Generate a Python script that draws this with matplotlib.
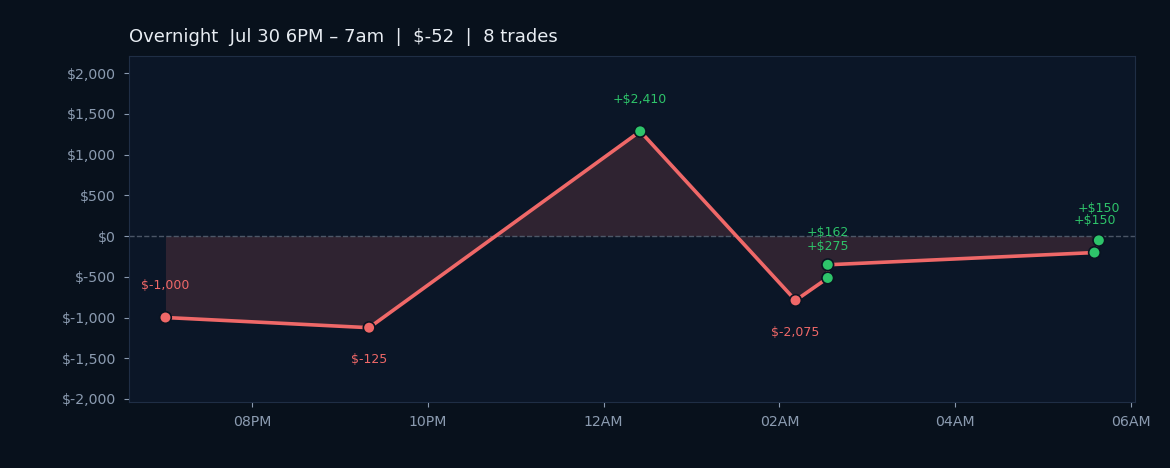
import numpy as np
import pandas as pd
import matplotlib
matplotlib.use("Agg")
import matplotlib.pyplot as plt
import matplotlib.dates as mdates
from matplotlib.ticker import FuncFormatter

# trades
trade_times = ["2024-07-30 19:01", "2024-07-30 21:20", "2024-07-31 00:25",
               "2024-07-31 02:11", "2024-07-31 02:33", "2024-07-31 02:33",
               "2024-07-31 05:35", "2024-07-31 05:38"]
trade_pnl = [-1000, -125, 2410, -2075, 275, 162, 150, 150]
label_texts = ["$-1,000", "$-125", "+$2,410", "$-2,075",
               "+$275", "+$162", "+$150", "+$150"]
title_text = "Overnight  Jul 30 6PM \u2013 7am  |  $-52  |  8 trades"

times = pd.to_datetime(trade_times)
cum = np.cumsum(trade_pnl)

BG = "#08111c"
AX_BG = "#0b1627"
RED = "#ef6868"
GREEN = "#2ec46a"
TICK = "#8b9bb0"
SPINE = "#1f2e45"

fig = plt.figure(figsize=(11.7, 4.68), dpi=100, facecolor=BG)
ax = fig.add_axes([0.1103, 0.141, 0.8600, 0.7393])
ax.set_facecolor(AX_BG)

x = mdates.date2num(times)
ax.fill_between(x, cum, 0, color=RED, alpha=0.16, linewidth=0)
ax.axhline(0, color="#5a6677", linestyle="--", linewidth=1, alpha=0.8)
ax.plot(x, cum, color=RED, linewidth=2.6, zorder=3)

colors = [GREEN if p > 0 else RED for p in trade_pnl]
ax.scatter(x, cum, s=70, c=colors, edgecolors="#0a1422", linewidths=1.2, zorder=4)

for i, (xi, yi, p, txt) in enumerate(zip(x, cum, trade_pnl, label_texts)):
    above = p > 0 or i == 0
    ax.annotate(txt, (xi, yi), xytext=(0, 23 if above else -23),
                textcoords="offset points", ha="center", va="center",
                fontsize=9, color=GREEN if p > 0 else RED, zorder=5)

ax.margins(x=0.039)
ax.set_ylim(-2037, 2209)
ax.set_yticks(np.arange(-2000, 2001, 500))
ax.yaxis.set_major_formatter(FuncFormatter(lambda v, _: "$" + format(int(v), ",")))
ax.xaxis.set_major_locator(mdates.HourLocator(byhour=range(0, 24, 2)))
ax.xaxis.set_major_formatter(mdates.DateFormatter("%I%p"))

ax.tick_params(colors=TICK, labelsize=10.2, pad=6)
ax.tick_params(axis="both", color=TICK)
for s in ax.spines.values():
    s.set_color(SPINE)

fig.text(0.1103, 0.922, title_text, color="#e8edf3", fontsize=13, ha="left", va="center")

fig.savefig("out.png", dpi=100, facecolor=BG)
